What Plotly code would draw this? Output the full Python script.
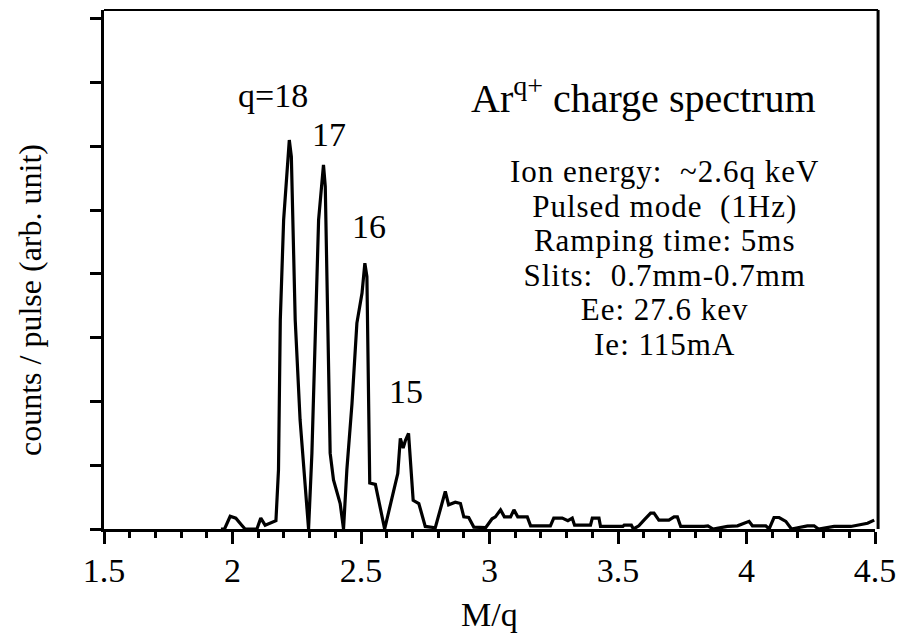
import plotly.graph_objects as go

# ---- data ----
mq = [1.955, 1.969, 1.991, 2.013, 2.036, 2.049, 2.095, 2.110, 2.127, 2.147, 2.169,
      2.179, 2.186, 2.199, 2.221, 2.229, 2.244, 2.263, 2.296,
      2.309, 2.322, 2.335, 2.354, 2.361, 2.380, 2.393, 2.419, 2.432,
      2.445, 2.465, 2.484, 2.504, 2.515, 2.523, 2.534, 2.556, 2.592,
      2.621, 2.643, 2.653, 2.664, 2.673, 2.685, 2.703, 2.725, 2.750, 2.789,
      2.828, 2.841, 2.867, 2.887, 2.900, 2.919, 2.939, 2.985,
      3.010, 3.023, 3.043, 3.058, 3.082, 3.095, 3.110, 3.147, 3.160, 3.237,
      3.250, 3.283, 3.305, 3.322, 3.331, 3.393, 3.400, 3.426, 3.432, 3.519,
      3.524, 3.552, 3.560, 3.581, 3.601, 3.627, 3.640, 3.659, 3.698, 3.718,
      3.731, 3.744, 3.835, 3.850, 3.870, 3.926, 3.965, 3.991, 4.010, 4.023,
      4.075, 4.088, 4.107, 4.127, 4.153, 4.175, 4.237, 4.263, 4.280, 4.341,
      4.406, 4.471, 4.497]
counts = [0.00, 0.00, 0.20, 0.17, 0.06, 0.00, 0.00, 0.17, 0.06, 0.10, 0.13,
          0.93, 3.28, 4.85, 6.10, 5.84, 3.28, 1.71, 0.00,
          1.19, 3.17, 4.85, 5.71, 5.37, 1.19, 0.77, 0.40, 0.00,
          0.93, 1.97, 3.23, 3.70, 4.17, 3.96, 0.72, 0.70, 0.00,
          0.51, 0.87, 1.42, 1.27, 1.39, 1.50, 0.45, 0.40, 0.04, 0.02,
          0.59, 0.38, 0.42, 0.40, 0.19, 0.18, 0.03, 0.02,
          0.16, 0.19, 0.30, 0.19, 0.19, 0.30, 0.19, 0.19, 0.05, 0.05,
          0.17, 0.17, 0.13, 0.17, 0.06, 0.06, 0.17, 0.17, 0.04, 0.04,
          0.06, 0.06, 0.00, 0.05, 0.14, 0.25, 0.25, 0.14, 0.14, 0.19,
          0.19, 0.04, 0.04, 0.05, 0.00, 0.04, 0.05, 0.09, 0.12, 0.05,
          0.05, 0.00, 0.18, 0.18, 0.12, 0.00, 0.05, 0.05, 0.00, 0.04,
          0.04, 0.09, 0.14]

peak_labels = ["q=18", "17", "16", "15"]
peak_label_x = [2.157, 2.377, 2.532, 2.676]
peak_label_y = [6.80, 6.18, 4.75, 2.15]

title_text = "Ar<sup>q+</sup> charge spectrum"
info_lines = ["Ion energy:\u00a0 ~2.6q keV", "Pulsed mode\u00a0 (1Hz)", "Ramping time: 5ms",
              "Slits:\u00a0 0.7mm-0.7mm", "Ee: 27.6 kev", "Ie: 115mA"]
x_ticks = [1.5, 2, 2.5, 3, 3.5, 4, 4.5]
x_tick_text = ["1.5", "2", "2.5", "3", "3.5", "4", "4.5"]

# ---- layout geometry (pixels) ----
W, H = 906, 639
L, R, T, B = 104, 31, 10, 110
PW, PH = W - L - R, H - T - B
FONT = "Liberation Serif"


def px2paper_x(px):
    return (px - L) / PW


def px2paper_y(py):
    return (H - B - py) / PH


fig = go.Figure()
fig.add_trace(go.Scatter(x=mq, y=counts, mode="lines",
                         line=dict(color="black", width=3.2),
                         showlegend=False, hoverinfo="skip"))

annotations = []
for t, x, y in zip(peak_labels, peak_label_x, peak_label_y):
    annotations.append(dict(text=t, x=x, y=y, xref="x", yref="y", showarrow=False,
                            xanchor="center", yanchor="middle",
                            font=dict(family=FONT, size=34, color="black")))

annotations.append(dict(text=title_text, x=px2paper_x(643), y=px2paper_y(95),
                        xref="paper", yref="paper", showarrow=False,
                        xanchor="center", yanchor="middle",
                        font=dict(family=FONT, size=40, color="black")))

# one multi-line block: outer font size sets the line pitch (1.3 em),
# inner spans set the glyph size
PITCH = 34.5
info_text = "<br>".join(
    '<span style="font-size:31px;letter-spacing:1px">%s</span>' % s for s in info_lines)
annotations.append(dict(text=info_text, x=px2paper_x(664), y=px2paper_y(258),
                        xref="paper", yref="paper", showarrow=False,
                        xanchor="center", yanchor="middle", align="center",
                        font=dict(family=FONT, size=PITCH / 1.3, color="black")))

annotations.append(dict(text="M/q", x=px2paper_x(489), y=px2paper_y(614),
                        xref="paper", yref="paper", showarrow=False,
                        xanchor="center", yanchor="middle",
                        font=dict(family=FONT, size=34, color="black")))
annotations.append(dict(text="counts / pulse (arb. unit)", x=px2paper_x(30), y=px2paper_y(300),
                        xref="paper", yref="paper", showarrow=False, textangle=-90,
                        xanchor="center", yanchor="middle",
                        font=dict(family=FONT, size=32, color="black")))

fig.update_layout(
    width=W, height=H,
    margin=dict(l=L, r=R, t=T, b=B, pad=0),
    paper_bgcolor="white", plot_bgcolor="white",
    annotations=annotations,
    shapes=[
        dict(type="line", xref="paper", yref="paper", x0=0, x1=1.004, y0=1, y1=1,
             line=dict(color="black", width=2)),
        dict(type="line", xref="paper", yref="paper", x0=1.004, x1=1.004, y0=0, y1=1,
             line=dict(color="black", width=3)),
    ],
    xaxis=dict(range=[1.5, 4.5], showgrid=False, zeroline=False,
               showline=True, linecolor="black", linewidth=3,
               ticks="outside", ticklen=12, tickwidth=3, tickcolor="black",
               tickmode="array", tickvals=x_ticks, ticktext=x_tick_text,
               ticklabelstandoff=-3,
               tickfont=dict(family=FONT, size=34, color="black"),
               minor=dict(dtick=0.1, tick0=1.5, ticks="outside", ticklen=6,
                          tickwidth=2.5, tickcolor="black", showgrid=False)),
    yaxis=dict(range=[0, 8.14], showgrid=False, zeroline=False,
               showline=True, linecolor="black", linewidth=3,
               ticks="outside", ticklen=11, tickwidth=2.5, tickcolor="black",
               dtick=1, tick0=0, showticklabels=False),
)

fig.write_html("out.html")
